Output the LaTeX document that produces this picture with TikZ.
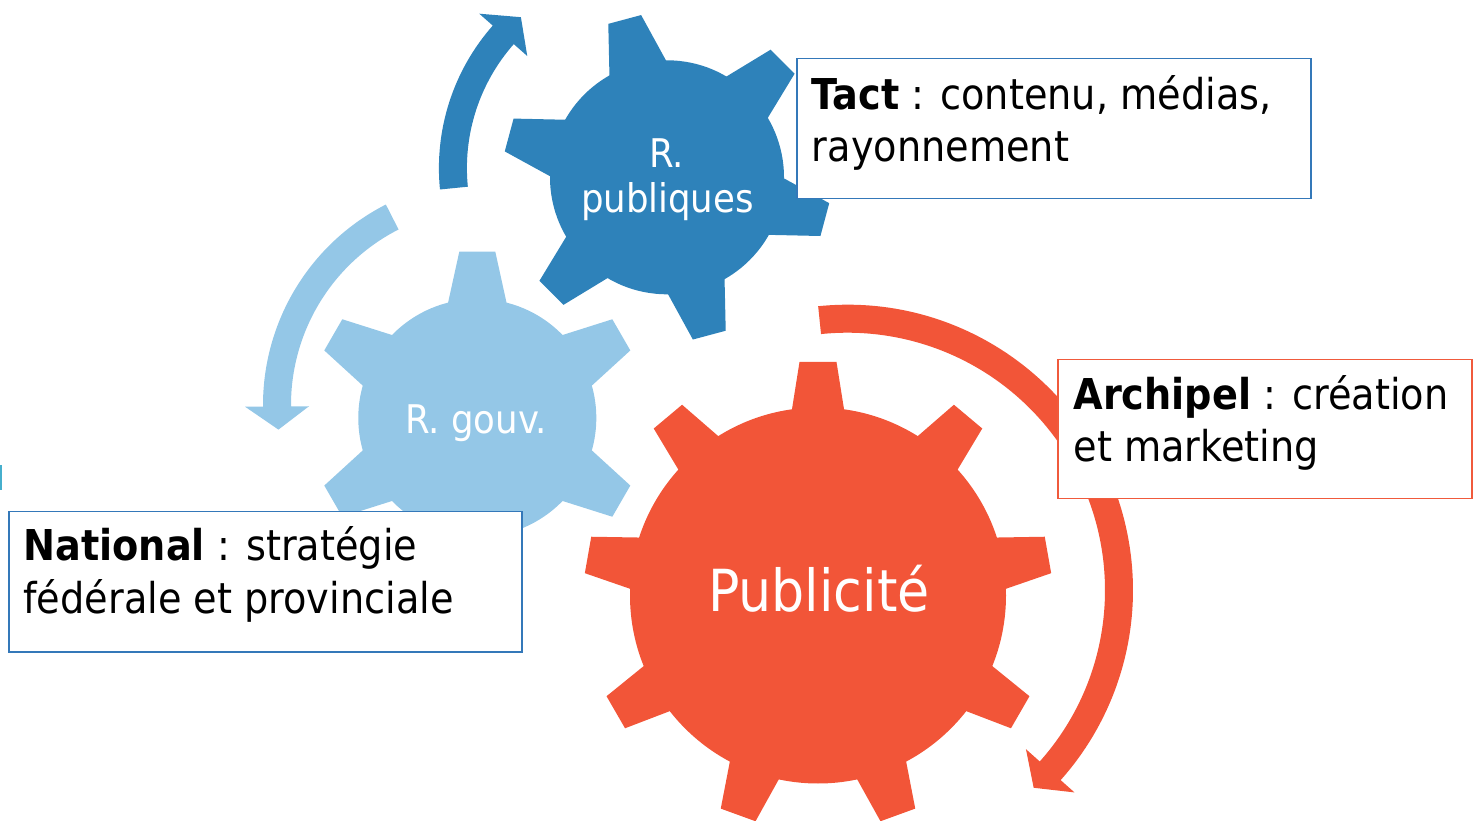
\documentclass[tikz,border=0pt]{standalone}
\usepackage{fontspec}
\setmainfont{DejaVu Sans Condensed}
\definecolor{gearred}{RGB}{242,85,56}
\definecolor{geardark}{RGB}{46,130,186}
\definecolor{gearlight}{RGB}{148,199,231}
\definecolor{boxblue}{RGB}{52,120,185}
\definecolor{boxred}{RGB}{240,90,60}
\definecolor{edgecyan}{RGB}{70,175,205}
\newcommand{\drawgear}[8]{%
  \fill[#1] #2 circle[radius=#3];
  \foreach \ang in {#8} {\fill[#1, shift={#2}, rotate=\ang] (#4,-#5) -- (#6,-#7) -- (#6,#7) -- (#4,#5) -- cycle;}%
}
\tikzset{
  boxtxt/.style={anchor=base west, inner sep=0pt, text=black, font=\fontsize{42.5}{50}\selectfont},
  geartxt/.style={anchor=base, inner sep=0pt, text=white, font=\fontsize{39.5}{46}\selectfont},
  bigtxt/.style={anchor=base, inner sep=0pt, text=white, font=\fontsize{58}{66}\selectfont},
  infobox/.style={fill=white, line width=1.5pt, anchor=north west, inner sep=0pt},
}
\begin{document}
\begin{tikzpicture}[x=1pt,y=1pt]
\useasboundingbox (0,0) rectangle (1478,820);
% edge sliver
\fill[edgecyan] (0,330) rectangle (2,355);
% circular arrows
\fill[gearred, shift={(847.5,229.8)}]
  (95.9:285.5) arc[start angle=95.9, end angle=-41.7, radius=285.5]
  -- (-41.7:304) -- (-46.7:271.5) -- (-41.7:239) -- (-41.7:257.5)
  arc[start angle=-41.7, end angle=95.9, radius=257.5] -- cycle;
\fill[geardark, shift={(654.4,651.9)}]
  (185.7:215.5) arc[start angle=185.7, end angle=138.6, radius=215.5]
  -- (138.6:233.5) -- (131.5:201.5) -- (138.6:169.5) -- (138.6:187.5)
  arc[start angle=138.6, end angle=185.7, radius=187.5] -- cycle;
\fill[gearlight, shift={(488,415)}]
  (117:225) arc[start angle=117, end angle=180.4, radius=225]
  -- (180.4:243) -- (186.7:211) -- (180.4:179) -- (180.4:197)
  arc[start angle=180.4, end angle=117, radius=197] -- cycle;
% gears
\drawgear{gearred}{(818,224.5)}{188}{160}{30.2}{233.5}{18.5}{90,130,170,210,250,290,330,370,410}
\drawgear{geardark}{(667,642.7)}{117}{95}{33.7}{163.4}{17}{105,165,225,285,345,45}
\drawgear{gearlight}{(477.3,402)}{119}{95}{33.7}{166.3}{18}{90,150,210,270,330,30}
% gear labels
\node[geartxt] (rp1) at (666.5,652) {R.};
\node[geartxt] (rp2) at (667.5,607) {publiques};
\node[geartxt] (rg) at (476.3,386.7) {R. gouv.};
\node[bigtxt] (pub) at (819,208.3) {Publicité};
% boxes
\node[infobox, draw=boxblue, minimum width=514pt, minimum height=140pt] (tactbox) at (796,762) {};
\node[infobox, draw=boxred, minimum width=414pt, minimum height=139pt] (archbox) at (1057,461) {};
\node[infobox, draw=boxblue, minimum width=513pt, minimum height=140pt] (natbox) at (8,309) {};
\node[boxtxt] (tact1) at (811.7,710) {\textbf{Tact} : contenu, médias,};
\node[boxtxt] (tact2) at (811.7,658.3) {rayonnement};
\node[boxtxt] (arch1) at (1073.3,410) {\textbf{Archipel} : création};
\node[boxtxt] (arch2) at (1073.3,358) {et marketing};
\node[boxtxt] (nat1) at (23.3,259) {\textbf{National} : stratégie};
\node[boxtxt] (nat2) at (23.3,207) {fédérale et provinciale};
\end{tikzpicture}
\end{document}
